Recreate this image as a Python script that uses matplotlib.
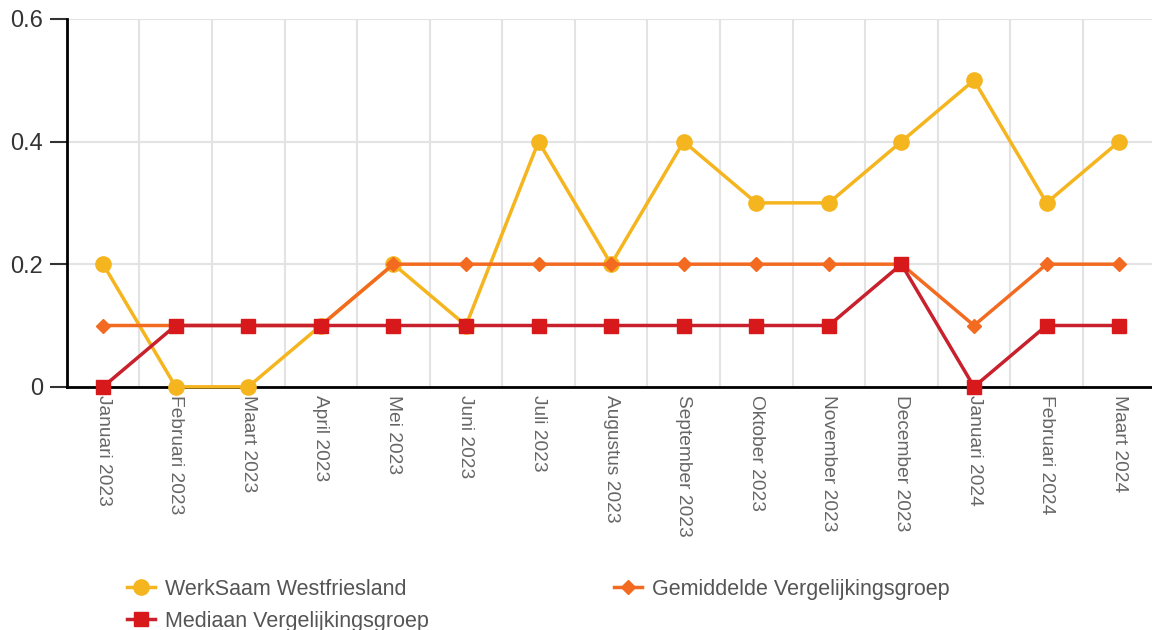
import matplotlib.pyplot as plt

plt.rcParams['font.family'] = ['Liberation Sans', 'DejaVu Sans']

maanden = ['Januari 2023', 'Februari 2023', 'Maart 2023', 'April 2023', 'Mei 2023',
           'Juni 2023', 'Juli 2023', 'Augustus 2023', 'September 2023', 'Oktober 2023',
           'November 2023', 'December 2023', 'Januari 2024', 'Februari 2024', 'Maart 2024']
werksaam = [0.2, 0.0, 0.0, 0.1, 0.2, 0.1, 0.4, 0.2, 0.4, 0.3, 0.3, 0.4, 0.5, 0.3, 0.4]
gemiddelde = [0.1, 0.1, 0.1, 0.1, 0.2, 0.2, 0.2, 0.2, 0.2, 0.2, 0.2, 0.2, 0.1, 0.2, 0.2]
mediaan = [0.0, 0.1, 0.1, 0.1, 0.1, 0.1, 0.1, 0.1, 0.1, 0.1, 0.1, 0.2, 0.0, 0.1, 0.1]

fig = plt.figure(figsize=(11.52, 6.3), dpi=100)
ax = fig.add_axes([0.058, 0.386, 0.945, 0.584])

x = range(len(maanden))
l1, = ax.plot(x, werksaam, color='#F5B51F', lw=2.5, marker='o', ms=11,
              label='WerkSaam Westfriesland', clip_on=False, zorder=3)
l2, = ax.plot(x, gemiddelde, color='#F26B21', lw=2.5, marker='D', ms=7,
              label='Gemiddelde Vergelijkingsgroep', clip_on=False, zorder=4)
l3, = ax.plot(x, mediaan, color='#C8202C', lw=2.5, marker='s', ms=10.5, mfc='#D7191C', mec='#D7191C',
              label='Mediaan Vergelijkingsgroep', clip_on=False, zorder=5)

ax.set_xlim(-0.5, 14.5)
ax.set_ylim(0, 0.6)
ax.set_yticks([0, 0.2, 0.4, 0.6])
ax.set_yticklabels(['0', '0.2', '0.4', '0.6'])
ax.set_xticks(list(x))
ax.set_xticklabels(maanden, rotation=-90, color='#666666', fontsize=13.8)
ax.set_xticks([i + 0.5 for i in range(len(maanden))], minor=True)
ax.tick_params(axis='x', which='major', length=0, pad=6)
ax.tick_params(axis='x', which='minor', length=0)
ax.tick_params(axis='y', length=12, width=1.5, labelsize=17, colors='#333333', pad=5)

ax.grid(axis='y', color='#e3e3e3', lw=1.5)
ax.grid(axis='x', which='minor', color='#e3e3e3', lw=1.5)
ax.set_axisbelow(True)
for s in ['top', 'right']:
    ax.spines[s].set_visible(False)
ax.spines['left'].set_linewidth(2)
ax.spines['bottom'].set_linewidth(2)
ax.spines['left'].set_color('black')
ax.spines['bottom'].set_color('black')

# rij-gewijze volgorde zoals in het origineel
fig.legend([l1, l3, l2], [l1.get_label(), l3.get_label(), l2.get_label()],
           loc='upper left', bbox_to_anchor=(0.103, 0.095), ncol=2,
           frameon=False, fontsize=15.5, labelcolor='#555555', columnspacing=8.6,
           handlelength=1.3, handletextpad=0.45, labelspacing=0.5, borderaxespad=0)

fig.savefig('out.png', dpi=100)
